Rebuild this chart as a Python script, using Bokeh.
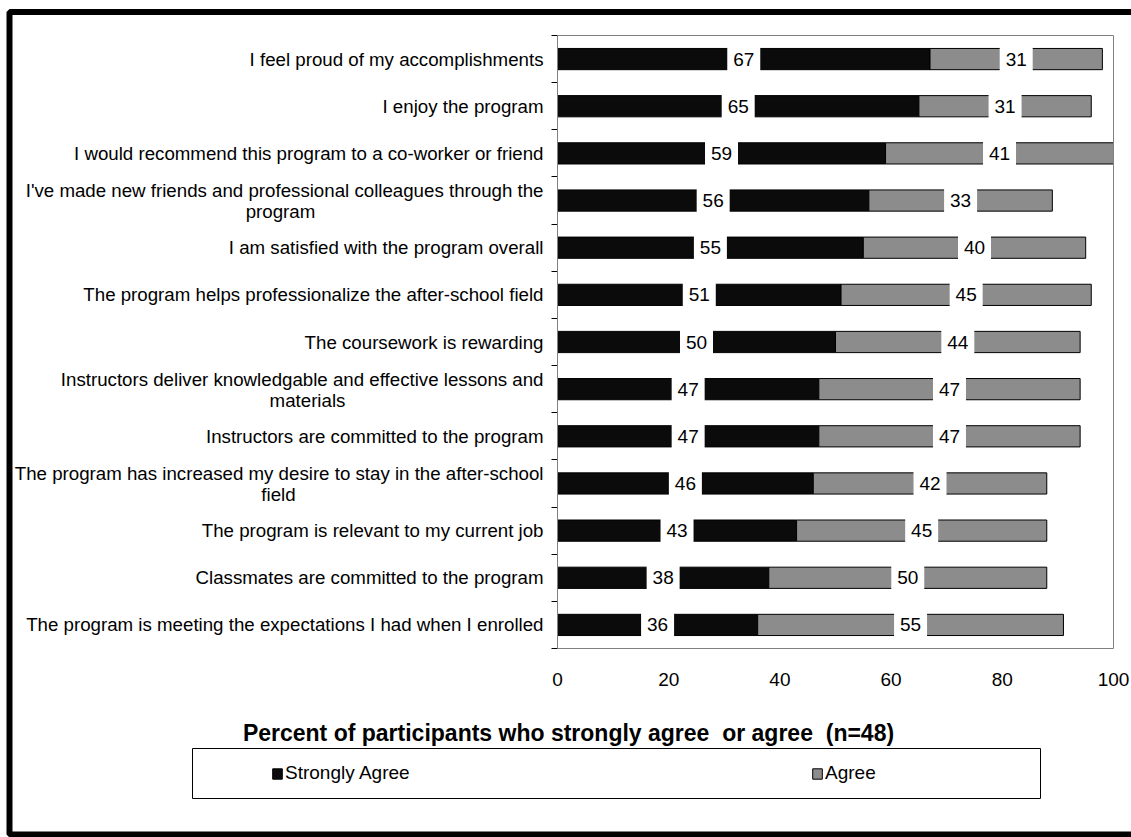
from bokeh.plotting import figure
from bokeh.models import (Range1d, FixedTicker, LabelSet, Label, Legend, LegendItem,
                          BoxAnnotation, ColumnDataSource)
from bokeh.core.properties import value
from bokeh.embed import file_html
from bokeh.resources import INLINE

# ---- data (top to bottom) ----
statements = [
    "I feel proud of my accomplishments",
    "I enjoy the program",
    "I would recommend this program to a co-worker or friend",
    "I've made new friends and professional colleagues through the\nprogram",
    "I am satisfied with the program overall",
    "The program helps professionalize the after-school field",
    "The coursework is rewarding",
    "Instructors deliver knowledgable and effective lessons and\nmaterials",
    "Instructors are committed to the program",
    "The program has increased my desire to stay in the after-school\nfield",
    "The program is relevant to my current job",
    "Classmates are committed to the program",
    "The program is meeting the expectations I had when I enrolled",
]
strongly_agree = [67, 65, 59, 56, 55, 51, 50, 47, 47, 46, 43, 38, 36]
agree = [31, 31, 41, 33, 40, 45, 44, 47, 47, 42, 45, 50, 55]
x_ticks = [0, 20, 40, 60, 80, 100]
series_names = ["Strongly Agree", "Agree"]
axis_title = "Percent of participants who strongly agree\u00a0 or agree\u00a0 (n=48)"

# ---- layout / style ----
FONT = "Liberation Sans"
W, H = 1131, 837
# pixel box of the bar area inside the canvas
AREA_L, AREA_R, AREA_T, AREA_B = 557, 1113, 35, 648
BLACK = "#0b0b0b"
GRAY = "#8c8c8c"

n = len(statements)
X_MAX = 100
ypos = [n - 0.5 - i for i in range(n)]
total = [s + a for s, a in zip(strongly_agree, agree)]
sa_mid = [s / 2 for s in strongly_agree]
a_mid = [s + a / 2 for s, a in zip(strongly_agree, agree)]

# the canvas is the plotting frame; ranges are set so 0..100 / 0..n fall on the bar area
kx = (AREA_R - AREA_L) / X_MAX
ky = (AREA_B - AREA_T) / n
x_range = Range1d(-AREA_L / kx, (W - AREA_L) / kx)
y_range = Range1d(-(H - AREA_B) / ky, n + AREA_T / ky)


def sx(px):
    return px


def sy(py):
    # screen units are measured upward from the bottom of the frame
    return H - py


p = figure(width=W, height=H, x_range=x_range, y_range=y_range,
           output_backend="svg", toolbar_location=None, min_border=0,
           background_fill_color="white", border_fill_color="white",
           outline_line_color=None)

# outer chart border
p.add_layout(BoxAnnotation(left=sx(9), right=sx(1150), top=sy(11.5), bottom=sy(834),
                           left_units="screen", right_units="screen",
                           top_units="screen", bottom_units="screen",
                           fill_alpha=0, line_color="black", line_alpha=1, line_width=6))
# plot-area outline
p.add_layout(BoxAnnotation(left=0, right=X_MAX, bottom=0, top=n,
                           fill_alpha=0, line_color="#808080", line_alpha=1, line_width=1))
# legend box
p.add_layout(BoxAnnotation(left=sx(192), right=sx(1040), top=sy(748), bottom=sy(798),
                           left_units="screen", right_units="screen",
                           top_units="screen", bottom_units="screen",
                           fill_color="white", fill_alpha=1,
                           line_color="black", line_alpha=1, line_width=1))

# stacked bars
BAR_H = 0.45
r_sa = p.hbar(y=ypos, left=0, right=strongly_agree, height=BAR_H,
              fill_color=BLACK, line_color="black", line_width=1)
r_a = p.hbar(y=ypos, left=strongly_agree, right=total, height=BAR_H,
             fill_color=GRAY, line_color="black", line_width=1)

# value labels on white boxes
lab_x = sa_mid + a_mid
lab_y = ypos + ypos
lab_t = [str(v) for v in strongly_agree] + [str(v) for v in agree]
p.rect(x=lab_x, y=lab_y, width=33, height=25, width_units="screen", height_units="screen",
       fill_color="white", line_color=None)
p.text(x=lab_x, y=lab_y, text=lab_t, text_align="center", text_baseline="middle",
       text_font=value(FONT), text_font_size="19px", text_color="black")

# axes, pinned to the corner of the bar area
p.xgrid.grid_line_color = None
p.ygrid.grid_line_color = None

p.xaxis.fixed_location = 0
p.xaxis.bounds = (0, X_MAX)
p.xaxis.ticker = FixedTicker(ticks=x_ticks)
p.xaxis.axis_line_color = None
p.xaxis.major_tick_line_color = None
p.xaxis.minor_tick_line_color = None
p.xaxis.major_label_text_font = FONT
p.xaxis.major_label_text_font_size = "19px"
p.xaxis.major_label_text_color = "black"
p.xaxis.major_label_standoff = 18

p.yaxis.fixed_location = 0
p.yaxis.bounds = (0, n)
p.yaxis.ticker = FixedTicker(ticks=list(range(n + 1)))
p.yaxis.axis_line_color = "black"
p.yaxis.axis_line_width = 1
p.yaxis.major_tick_in = 0
p.yaxis.major_tick_out = 6
p.yaxis.major_tick_line_color = "black"
p.yaxis.minor_tick_line_color = None
p.yaxis.major_label_text_alpha = 0

# category labels (first lines right-aligned, wrapped second lines centred under them)
CAT_SIZE = "18.7px"
two_line = ["\n" in s for s in statements]
first_lines = [s.split("\n")[0] for s in statements]
cat_src = ColumnDataSource(dict(y=ypos, text=first_lines,
                                dy=[10 if t else 0 for t in two_line]))
p.add_layout(LabelSet(x=0, y="y", text="text", source=cat_src, x_offset=-14, y_offset="dy",
                      text_align="right", text_baseline="middle",
                      text_font=value(FONT), text_font_size=CAT_SIZE, text_color="black"))
second_idx = [i for i, t in enumerate(two_line) if t]
second_centres = [-277, -250, -279]
sec_src = ColumnDataSource(dict(y=[ypos[i] for i in second_idx],
                                text=[statements[i].split("\n")[1] for i in second_idx],
                                dx=second_centres))
p.add_layout(LabelSet(x=0, y="y", text="text", source=sec_src, x_offset="dx", y_offset=-11,
                      text_align="center", text_baseline="middle",
                      text_font=value(FONT), text_font_size=CAT_SIZE, text_color="black"))

# axis title, centred on the chart
p.add_layout(Label(x=sx(568), y=sy(732), x_units="screen", y_units="screen",
                   text=axis_title, text_align="center", text_baseline="middle",
                   text_font=FONT, text_font_style="bold", text_font_size="23px",
                   text_color="black"))

# legend
legend = Legend(items=[LegendItem(label=series_names[0], renderers=[r_sa]),
                       LegendItem(label=series_names[1], renderers=[r_a])],
                orientation="horizontal", location=(sx(271), sy(784)),
                padding=0, margin=0, spacing=396, label_width=130,
                glyph_width=12, glyph_height=13, label_standoff=2,
                border_line_color=None, background_fill_alpha=0,
                label_text_font=FONT, label_text_font_size="19px",
                label_text_color="black")
p.add_layout(legend)

open("out.html", "w").write(file_html(p, INLINE))
